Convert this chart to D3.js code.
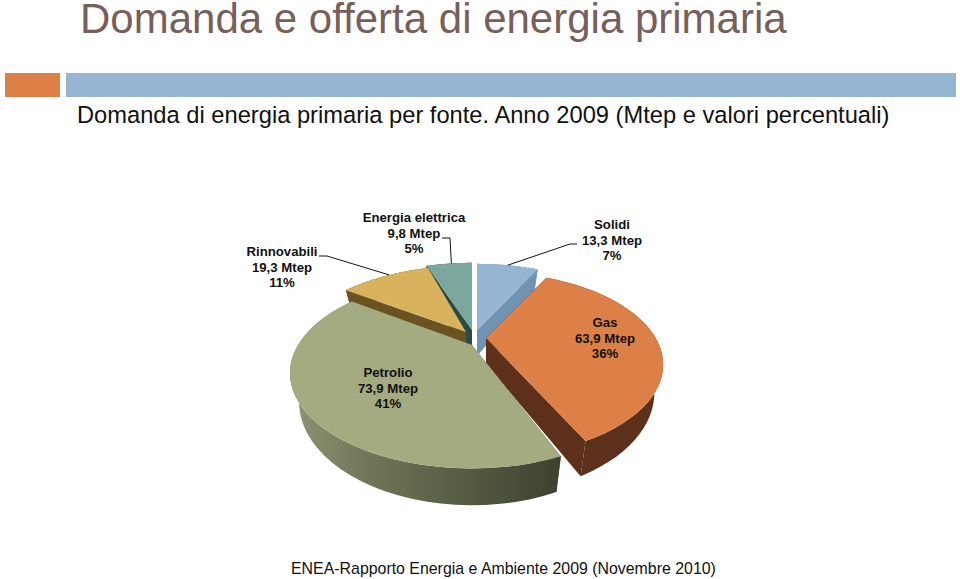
<!DOCTYPE html>
<html><head><meta charset="utf-8">
<script src="https://cdnjs.cloudflare.com/ajax/libs/d3/7.8.5/d3.min.js"></script>
<style>html,body{margin:0;padding:0;background:#fff;overflow:hidden}svg{display:block}text{font-family:"Liberation Sans",Arial,sans-serif}</style>
</head><body><svg id="c" width="960" height="579"></svg>
<script>
const sources = ["Solidi","Gas","Petrolio","Rinnovabili","Energia elettrica"];
const mtep = [13.3,63.9,73.9,19.3,9.8];
const mtepLabels = ["13,3 Mtep","63,9 Mtep","73,9 Mtep","19,3 Mtep","9,8 Mtep"];
const percents = ["7%","36%","41%","11%","5%"];
const topColors = ["#94b6d2","#dd8047","#a5ab81","#d8b25c","#7ba79d"];
const sideColors = ["#7193b2","#5c301a","url(#petSide)","#6b5222","#2a4a48"];

const svg = d3.select("#c");
const defs = svg.append("defs");
const g0 = defs.append("linearGradient").attr("id","petSide").attr("gradientUnits","userSpaceOnUse")
  .attr("x1",290).attr("x2",560).attr("y1",0).attr("y2",0);
[[0,"#8e9574"],[0.3,"#6f7557"],[0.65,"#555b41"],[1,"#3c4230"]].forEach(s=>g0.append("stop").attr("offset",s[0]).attr("stop-color",s[1]));

svg.append("text").attr("x",80).attr("y",33).attr("font-size",42).attr("fill","#77605a").text("Domanda e offerta di energia primaria");
svg.append("rect").attr("x",5).attr("y",73).attr("width",55).attr("height",24).attr("fill","#dd8047");
svg.append("rect").attr("x",66).attr("y",73).attr("width",890).attr("height",24).attr("fill","#94b6d2");
svg.append("text").attr("x",77).attr("y",123).attr("font-size",23.7).attr("fill","#111").text("Domanda di energia primaria per fonte. Anno 2009 (Mtep e valori percentuali)");
svg.append("text").attr("x",291).attr("y",574).attr("font-size",15.9).attr("fill","#111").text("ENEA-Rapporto Energia e Ambiente 2009 (Novembre 2010)");

// Projection: a tilted unit disc seen in perspective
const cx=477, cy=337, a=174, b=87, p=0.295, depth=26, shrink=0.95;
const explode=[[0,-7],[9,1],[-5,8],[-11,-5],[-5,-7]];
const radiusScale=[0.98,0.975,1.0,0.98,1];
const angleShift=[0,0,4,3,0].map(d=>d*Math.PI/180);

const arcs=d3.pie().sort(null).value(d=>d)(mtep);
function rim(theta,i,low){
  const t=theta+angleShift[i];
  const u=Math.sin(t)*radiusScale[i], v=-Math.cos(t)*radiusScale[i], w=1-p*v;
  return point(a*u/w,b*v/w,depth/w,i,low);
}
function point(dx,dy,dz,i,low){
  const ox=cx+explode[i][0], oy=cy+explode[i][1];
  return low?[ox+dx*shrink,oy+dy+dz]:[ox+dx,oy+dy];
}
const apex=(i,low)=>point(0,0,depth,i,low);
const line=d3.line();
const angs=d=>d3.range(0,41).map(k=>d.startAngle+(d.endAngle-d.startAngle)*k/40);

const order=[0,4,3,1,2];
const gs=svg.append("g").selectAll("g").data(order).join("g");
gs.each(function(i){
  const g=d3.select(this), d=arcs[i], th=angs(d);
  const topR=th.map(t=>rim(t,i,false)), lowR=th.map(t=>rim(t,i,true));
  const side=sideColors[i];
  [[topR[0],lowR[0]],[topR[40],lowR[40]]].forEach(e=>{
    g.append("path").attr("d",line([apex(i,false),e[0],e[1],apex(i,true)])+"Z").attr("fill",i==2?"#6f7557":side);
  });
  g.append("path").attr("d",line(topR.concat(lowR.slice().reverse()))+"Z").attr("fill",side);
  g.append("path").attr("d",line([apex(i,false)].concat(topR))+"Z").attr("fill",topColors[i]);
});

const labelPos=[[612,229],[605,327],[388,377],[282,256],[414,222]];
const lab=svg.append("g").attr("font-size",13.2).attr("font-weight","bold").attr("fill","#111").attr("text-anchor","middle");
sources.forEach((s,i)=>{
  [s,mtepLabels[i],percents[i]].forEach((t,k)=>{
    lab.append("text").attr("x",labelPos[i][0]).attr("y",labelPos[i][1]+k*15.5).text(t);
  });
});
const leaderStart=[[577,244],null,null,[319,256],[442,238]];
const leaderElbow=[[570,244],null,null,[327,256],[450,238]];
const leaderAt=[0.5,null,null,0.55,0.55];
leaderStart.forEach((st,i)=>{
  if(!st) return;
  const d=arcs[i], t=d.startAngle+(d.endAngle-d.startAngle)*leaderAt[i];
  svg.append("path").attr("d",line([st,leaderElbow[i],rim(t,i,false)])).attr("fill","none").attr("stroke","#111").attr("stroke-width",1);
});
</script></body></html>
